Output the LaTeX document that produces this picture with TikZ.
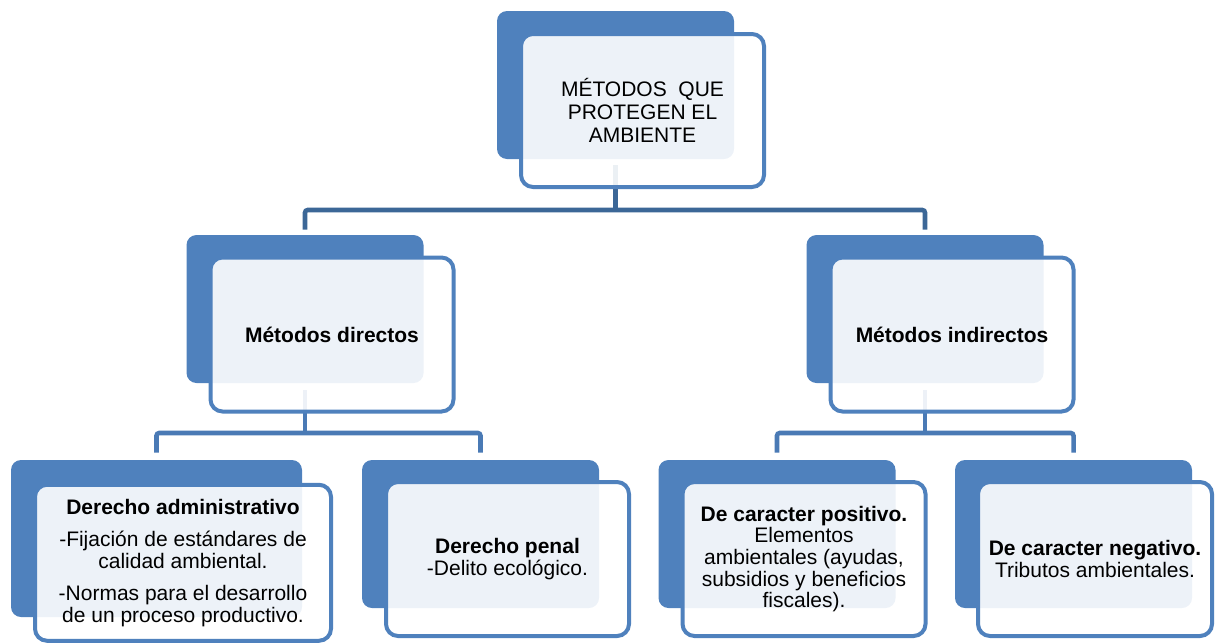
\documentclass[tikz,border=0pt]{standalone}
\usepackage{fontspec}
\setmainfont{Liberation Sans}
\definecolor{boxblue}{HTML}{4F81BD}
\definecolor{conntop}{HTML}{3C6797}
\definecolor{connlow}{HTML}{4A7AB5}
\tikzset{
  backbox/.style={draw=none, fill=boxblue, rounded corners=7.5pt,
    minimum width=177.75pt, minimum height=111pt, inner sep=0pt},
  frontbox/.style={draw=boxblue, line width=3pt, fill=white, fill opacity=0.9,
    text opacity=1, rounded corners=9pt, minimum width=182.25pt,
    minimum height=115.5pt, inner sep=0pt, align=center,
    font=\fontsize{15.75}{16.2}\selectfont},
  conn/.style={line width=3.4pt, rounded corners=2pt},
}
\begin{document}
\begin{tikzpicture}[x=0.75pt,y=-0.75pt]
\useasboundingbox (0,0) rectangle (1216,643);
\clip (0,0) rectangle (1216,643);
% back boxes
\node[backbox] (top-b) at (615.5,85) {};
\node[backbox] (ml-b) at (305,309) {};
\node[backbox] (mr-b) at (925,309) {};
\node[backbox, minimum width=218.25pt, minimum height=117.75pt] (b1-b) at (156.5,538.5) {};
\node[backbox] (b2-b) at (480.5,534) {};
\node[backbox] (b3-b) at (777,534) {};
\node[backbox] (b4-b) at (1073.5,534) {};
% junctions
\coordinate (j1) at (615.5,210);
\coordinate (j2) at (305,433);
\coordinate (j3) at (925,433);
% connectors
\draw[conn, draw=conntop] ([yshift=-4.5pt]top-b.south) -- (j1);
\draw[conn, draw=conntop] ([yshift=3.75pt]ml-b.north) |- (j1) -| ([yshift=3.75pt]mr-b.north);
\draw[conn, draw=connlow] ([yshift=-5pt]ml-b.south) -- (j2);
\draw[conn, draw=connlow] ([yshift=5.25pt]b1-b.north) |- (j2) -| ([yshift=5.25pt]b2-b.north);
\draw[conn, draw=connlow] ([yshift=-5pt]mr-b.south) -- (j3);
\draw[conn, draw=connlow] ([yshift=5.25pt]b3-b.north) |- (j3) -| ([yshift=5.25pt]b4-b.north);
% front boxes
\node[frontbox, minimum height=114.75pt, font=\fontsize{15.75}{17}\selectfont] (top) at (642.5,110.5)
  {MÉTODOS\ \ QUE\\PROTEGEN EL\\AMBIENTE};
\node[frontbox] (ml) at (332,334.5) {\textbf{Métodos directos}};
\node[frontbox] (mr) at (952,334.5) {\textbf{Métodos indirectos}};
\node[frontbox, minimum width=222pt, minimum height=117pt] (b1) at (183,562.75)
  {\textbf{Derecho administrativo}\\[8pt]-Fijación de estándares de\\calidad ambiental.\\[8pt]-Normas para el desarrollo\\de un proceso productivo.};
\node[frontbox] (b2) at (507.5,559) {\textbf{Derecho penal}\\-Delito ecológico.};
\node[frontbox] (b3) at (804,559)
  {\textbf{De caracter positivo.}\\Elementos\\ambientales (ayudas,\\subsidios y beneficios\\fiscales).};
\node[frontbox, minimum width=175.5pt] (b4) at (1095,559)
  {\textbf{De caracter negativo.}\\Tributos ambientales.};
\end{tikzpicture}
\end{document}
